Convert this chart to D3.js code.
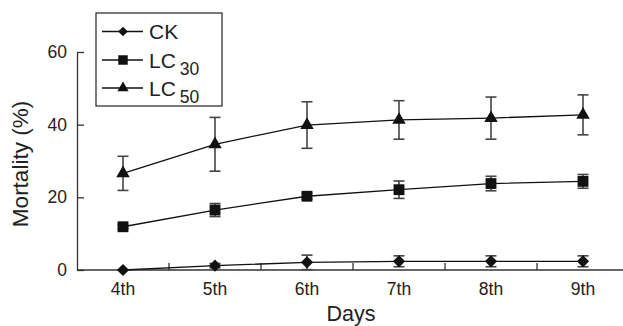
<!DOCTYPE html>
<html>
<head>
<meta charset="utf-8">
<script src="https://cdn.jsdelivr.net/npm/d3@7"></script>
<style>
  body { margin: 0; background: #fff; }
  svg { display: block; font-family: "Liberation Sans", Arial, sans-serif; }
</style>
</head>
<body>
<div class="canvas"></div>
<script>
// Data
const days = ['4th', '5th', '6th', '7th', '8th', '9th'];
const ck = [0, 1.2, 2.1, 2.4, 2.4, 2.4];
const ckErr = [0, 0.6, 2.0, 1.5, 1.5, 1.5];
const lc30 = [11.9, 16.5, 20.3, 22.1, 23.8, 24.4];
const lc30Err = [0.5, 1.8, 0.8, 2.4, 2.0, 1.9];
const lc50 = [26.6, 34.6, 39.9, 41.3, 41.8, 42.7];
const lc50Err = [4.7, 7.4, 6.4, 5.3, 5.8, 5.5];
const yTicks = [0, 20, 40, 60];

const series = [
  { name: 'CK', sub: '', values: ck, err: ckErr, symbol: d3.symbolDiamond2, size: 95, legSize: 60 },
  { name: 'LC', sub: '30', values: lc30, err: lc30Err, symbol: d3.symbolSquare, size: 118, legSize: 90 },
  { name: 'LC', sub: '50', values: lc50, err: lc50Err, symbol: d3.symbolTriangle, size: 78, legSize: 55 }
];

// Setup dimentions
const dims = { width: 623, height: 326 };
const margin = { left: 77, top: 52, bottom: 56 };

const svg = d3.select('.canvas')
  .append('svg')
  .attr('width', dims.width)
  .attr('height', dims.height);

const x = d3.scaleBand()
  .domain(days)
  .range([margin.left, margin.left + 92 * days.length])
  .padding(0);

const y = d3.scaleLinear()
  .domain([0, 60])
  .range([dims.height - margin.bottom, margin.top]);

const axisColour = '#333';
const textColour = '#222';

// y axis, ticks inside
const yAxis = svg.append('g')
  .attr('transform', `translate(${margin.left}, 0)`)
  .call(d3.axisLeft(y).tickValues(yTicks).tickSize(-7).tickPadding(10).tickSizeOuter(0));
yAxis.select('.domain').attr('stroke', axisColour).attr('stroke-width', 1.3);
yAxis.selectAll('.tick line').attr('stroke', axisColour).attr('stroke-width', 1.3);
yAxis.selectAll('text')
  .attr('font-size', 17.5)
  .attr('fill', textColour)
  .attr('font-family', '"Liberation Sans", Arial, sans-serif');

// x axis, labels at band centres
const xAxis = svg.append('g')
  .attr('transform', `translate(0, ${y(0)})`)
  .call(d3.axisBottom(x).tickSize(0).tickPadding(13));
xAxis.select('.domain').remove();
xAxis.selectAll('text')
  .attr('font-size', 17.5)
  .attr('fill', textColour)
  .attr('font-family', '"Liberation Sans", Arial, sans-serif');

svg.append('line')
  .attr('x1', margin.left).attr('x2', dims.width)
  .attr('y1', y(0)).attr('y2', y(0))
  .attr('stroke', axisColour).attr('stroke-width', 1.3);

// tick marks at the band boundaries, pointing up
svg.append('g')
  .selectAll('line')
  .data(days.slice(1))
  .enter().append('line')
    .attr('x1', d => x(d)).attr('x2', d => x(d))
    .attr('y1', y(0)).attr('y2', y(0) - 7)
    .attr('stroke', axisColour).attr('stroke-width', 1.3);

// axis titles
svg.append('text')
  .attr('x', (margin.left + dims.width) / 2 + 1)
  .attr('y', 321)
  .attr('text-anchor', 'middle')
  .attr('font-size', 21.5)
  .attr('fill', textColour)
  .text('Days');

svg.append('text')
  .attr('transform', `translate(28, ${y(30) + 3}) rotate(-90)`)
  .attr('text-anchor', 'middle')
  .attr('font-size', 22.5)
  .attr('fill', textColour)
  .text('Mortality (%)');

const cx = d => x(d) + x.bandwidth() / 2;

const line = d3.line()
  .x(d => cx(d.day))
  .y(d => y(d.v));

series.forEach(s => {
  const pts = days.map((day, i) => ({ day, v: s.values[i], e: s.err[i] }));
  const g = svg.append('g');

  // error bars
  const eb = g.selectAll('.err')
    .data(pts.filter(d => d.e > 0))
    .enter().append('g')
      .attr('stroke', '#444')
      .attr('stroke-width', 1.6);
  eb.append('line')
    .attr('x1', d => cx(d.day)).attr('x2', d => cx(d.day))
    .attr('y1', d => y(d.v - d.e)).attr('y2', d => y(d.v + d.e));
  eb.append('line')
    .attr('x1', d => cx(d.day) - 5.5).attr('x2', d => cx(d.day) + 5.5)
    .attr('y1', d => y(d.v + d.e)).attr('y2', d => y(d.v + d.e));
  eb.append('line')
    .attr('x1', d => cx(d.day) - 5.5).attr('x2', d => cx(d.day) + 5.5)
    .attr('y1', d => y(d.v - d.e)).attr('y2', d => y(d.v - d.e));

  g.append('path')
    .datum(pts)
    .attr('d', line)
    .attr('fill', 'none')
    .attr('stroke', '#111')
    .attr('stroke-width', 1.3);

  g.selectAll('.mark')
    .data(pts)
    .enter().append('path')
      .attr('transform', d => `translate(${cx(d.day)}, ${y(d.v)})`)
      .attr('d', d3.symbol().type(s.symbol).size(s.size))
      .attr('fill', '#111');
});

// legend
const legendGroup = svg.append('g');
legendGroup.append('rect')
  .attr('x', 96).attr('y', 13)
  .attr('width', 126).attr('height', 93)
  .attr('fill', '#fff')
  .attr('stroke', '#222')
  .attr('stroke-width', 1.2);

const legendY = [31.5, 60, 88];
series.forEach((s, i) => {
  const ly = legendY[i];
  const row = legendGroup.append('g');
  row.append('line')
    .attr('x1', 102).attr('x2', 143)
    .attr('y1', ly).attr('y2', ly)
    .attr('stroke', '#111').attr('stroke-width', 1.3);
  row.append('path')
    .attr('transform', `translate(123, ${ly})`)
    .attr('d', d3.symbol().type(s.symbol).size(s.legSize))
    .attr('fill', '#111');
  const t = row.append('text')
    .attr('x', 149)
    .attr('y', ly + 7.5)
    .attr('font-size', 21)
    .attr('fill', textColour)
    .text(s.name);
  if (s.sub) {
    t.append('tspan')
      .attr('dx', 4)
      .attr('dy', 7.5)
      .attr('font-size', 17.5)
      .text(s.sub);
  }
});
</script>
</body>
</html>
